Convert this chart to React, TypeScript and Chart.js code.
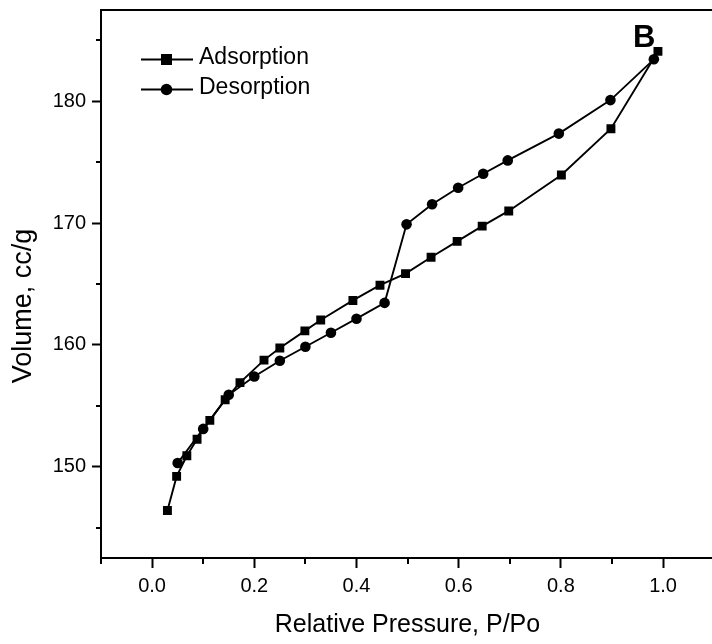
import React, { useEffect, useRef } from 'react';
import { Chart, registerables } from 'chart.js';

Chart.register(...registerables);

const adsorptionP = [0.03, 0.048, 0.068, 0.088, 0.113, 0.143, 0.172, 0.219, 0.25, 0.299, 0.33, 0.393, 0.446, 0.496, 0.546, 0.597, 0.646, 0.698, 0.801, 0.898, 0.99];
const adsorptionV = [146.4, 149.2, 150.9, 152.25, 153.8, 155.5, 156.9, 158.75, 159.75, 161.15, 162.05, 163.65, 164.9, 165.85, 167.2, 168.5, 169.75, 171.0, 173.95, 177.75, 184.1];
const desorptionP = [0.05, 0.1, 0.15, 0.2, 0.25, 0.3, 0.35, 0.4, 0.455, 0.498, 0.548, 0.599, 0.648, 0.696, 0.796, 0.897, 0.982];
const desorptionV = [150.3, 153.1, 155.9, 157.4, 158.7, 159.85, 161.0, 162.15, 163.45, 169.9, 171.55, 172.9, 174.05, 175.15, 177.35, 180.1, 183.45];

const xMajorTicks = [0, 0.2, 0.4, 0.6, 0.8, 1.0];
const xMinorTicks = [-0.1, 0.1, 0.3, 0.5, 0.7, 0.9, 1.1];
const yMajorTicks = [150, 160, 170, 180];
const yMinorTicks = [145, 155, 165, 175, 185];

const seriesLabels = ['Adsorption', 'Desorption'];
const xTitle = 'Relative Pressure, P/Po';
const yTitle = 'Volume, cc/g';
const panelLabel = 'B';

const FAMILY = "'Liberation Sans', Arial, Helvetica, sans-serif";

const decorPlugin = {
  id: 'decor',
  afterDraw(chart: any) {
    const ctx = chart.ctx as CanvasRenderingContext2D;
    const area = chart.chartArea;
    const xs = chart.scales.x;
    const ys = chart.scales.y;
    ctx.save();
    ctx.strokeStyle = '#000';
    ctx.fillStyle = '#000';
    // top frame line
    ctx.lineWidth = 2;
    ctx.beginPath();
    ctx.moveTo(area.left - 1, area.top);
    ctx.lineTo(area.right, area.top);
    ctx.stroke();
    // minor ticks
    ctx.lineWidth = 2;
    ctx.beginPath();
    xMinorTicks.forEach((v) => {
      const px = Math.round(xs.getPixelForValue(v));
      ctx.moveTo(px, area.bottom);
      ctx.lineTo(px, area.bottom + 6);
    });
    yMinorTicks.forEach((v) => {
      const py = Math.round(ys.getPixelForValue(v));
      ctx.moveTo(area.left, py);
      ctx.lineTo(area.left - 5, py);
    });
    ctx.stroke();

    // legend
    const rows = [
      { label: seriesLabels[0], style: 'rect', ly: 59.5, ty: 58 },
      { label: seriesLabels[1], style: 'circle', ly: 89.5, ty: 88 },
    ];
    rows.forEach((r) => {
      ctx.lineWidth = 1.8;
      ctx.beginPath();
      ctx.moveTo(141, r.ly);
      ctx.lineTo(193, r.ly);
      ctx.stroke();
      if (r.style === 'rect') {
        ctx.fillRect(166.5 - 5.5, r.ly - 5.5, 11, 11);
      } else {
        ctx.beginPath();
        ctx.arc(166.5, r.ly, 5.8, 0, Math.PI * 2);
        ctx.fill();
      }
      ctx.font = `23px ${FAMILY}`;
      ctx.textAlign = 'left';
      ctx.textBaseline = 'middle';
      ctx.fillText(r.label, 199, r.ty);
    });

    // panel label
    ctx.font = `bold 31px ${FAMILY}`;
    ctx.textAlign = 'left';
    ctx.textBaseline = 'alphabetic';
    ctx.fillText(panelLabel, 633, 47.3);

    // axis titles
    ctx.font = `25px ${FAMILY}`;
    ctx.textAlign = 'center';
    ctx.textBaseline = 'middle';
    ctx.fillText(xTitle, 407.5, 625);

    ctx.save();
    ctx.translate(24, 306);
    ctx.rotate(-Math.PI / 2);
    ctx.font = `27px ${FAMILY}`;
    ctx.textAlign = 'center';
    ctx.textBaseline = 'middle';
    ctx.fillText(yTitle, 0, 0);
    ctx.restore();

    ctx.restore();
  },
};

export default function App() {
  const canvasRef = useRef<HTMLCanvasElement | null>(null);

  useEffect(() => {
    if (!canvasRef.current) return;
    const chart = new Chart(canvasRef.current, {
      type: 'scatter',
      data: {
        datasets: [
          {
            label: seriesLabels[0],
            data: adsorptionP.map((x, i) => ({ x, y: adsorptionV[i] })),
            showLine: true,
            borderColor: '#000',
            borderWidth: 1.9,
            pointStyle: 'rect',
            pointRadius: 6.3,
            pointHoverRadius: 6.3,
            pointBackgroundColor: '#000',
            pointBorderWidth: 0,
          },
          {
            label: seriesLabels[1],
            data: desorptionP.map((x, i) => ({ x, y: desorptionV[i] })),
            showLine: true,
            borderColor: '#000',
            borderWidth: 1.9,
            pointStyle: 'circle',
            pointRadius: 5.3,
            pointHoverRadius: 5.3,
            pointBackgroundColor: '#000',
            pointBorderWidth: 0,
          },
        ],
      },
      options: {
        responsive: false,
        animation: false,
        devicePixelRatio: 1,
        layout: { padding: { top: 10, left: 0, right: 0, bottom: 0 } },
        plugins: {
          legend: { display: false },
          tooltip: { enabled: false },
        },
        scales: {
          x: {
            type: 'linear',
            min: -0.1,
            max: 1.15,
            afterBuildTicks: (s: any) => {
              s.ticks = xMajorTicks.map((v) => ({ value: v }));
            },
            afterFit: (s: any) => {
              s.height = 86;
              s.paddingLeft = 0;
              s.paddingRight = 0;
            },
            grid: {
              drawOnChartArea: false,
              drawTicks: true,
              tickLength: 10,
              tickWidth: 2,
              tickColor: '#000',
            },
            border: { color: '#000', width: 2 },
            ticks: {
              color: '#000',
              font: { size: 20, family: FAMILY },
              padding: 6,
              maxRotation: 0,
              autoSkip: false,
              callback: (v: any) => Number(v).toFixed(1),
            },
          },
          y: {
            type: 'linear',
            min: 142.5,
            max: 187.5,
            afterBuildTicks: (s: any) => {
              s.ticks = yMajorTicks.map((v) => ({ value: v }));
            },
            afterFit: (s: any) => {
              s.width = 101;
              s.paddingTop = 0;
              s.paddingBottom = 0;
            },
            grid: {
              drawOnChartArea: false,
              drawTicks: true,
              tickLength: 9,
              tickWidth: 2,
              tickColor: '#000',
            },
            border: { color: '#000', width: 2 },
            ticks: {
              color: '#000',
              font: { size: 20, family: FAMILY },
              padding: 6,
              autoSkip: false,
              callback: (v: any) => String(Math.round(Number(v))),
            },
          },
        },
      },
      plugins: [decorPlugin],
    });
    return () => chart.destroy();
  }, []);

  return (
    <div style={{ position: 'absolute', left: 0, top: 0, width: 712, height: 644, overflow: 'hidden', background: '#fff' }}>
      <canvas ref={canvasRef} width={746} height={644} style={{ width: 746, height: 644, display: 'block' }} />
    </div>
  );
}
